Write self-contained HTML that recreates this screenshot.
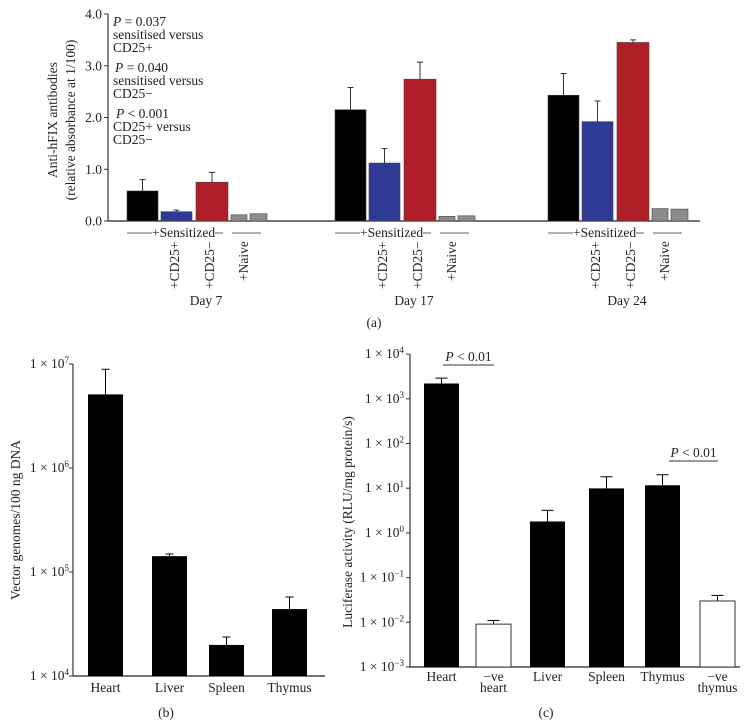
<!DOCTYPE html>
<html><head><meta charset="utf-8"><style>
body{margin:0;background:#fff}
svg{display:block;font-family:"Liberation Serif",serif;fill:#222}
text{fill:#222}
</style></head><body>
<svg id="fig" width="749" height="727" viewBox="0 0 749 727">
<g id="ga"></g>
<g id="gb"></g>
<g id="gc"></g>
</svg>
<script>
// Panel (a)
const aDays = ["Day 7","Day 17","Day 24"];
const aGroups = ["Sensitized","+CD25+","+CD25\u2212","Naive1","Naive2"];
const aValues = [[0.58,0.18,0.75,0.12,0.14],[2.15,1.12,2.74,0.09,0.10],[2.43,1.92,3.45,0.24,0.23]];
const aErrors = [[0.80,0.21,0.94,0,0],[2.58,1.40,3.07,0,0],[2.85,2.32,3.50,0,0]];
const aTicks = [0,1,2,3,4];
const aTickLabels = ["0.0","1.0","2.0","3.0","4.0"];
// Panel (b)
const bCats = ["Heart","Liver","Spleen","Thymus"];
const bValues = [5.1e6,1.42e5,1.99e4,4.4e4];
const bErrors = [8.9e6,1.49e5,2.37e4,5.75e4];
const bTickExp = [4,5,6,7];
// Panel (c)
const cCats = [["Heart"],["\u2212ve","heart"],["Liver"],["Spleen"],["Thymus"],["\u2212ve","thymus"]];
const cValues = [2.2e3,0.0091,1.8,9.9,11.6,0.030];
const cErrors = [2.9e3,0.011,3.2,18,20,0.040];
const cFilled = [true,false,true,true,true,false];
const cTickExp = [-3,-2,-1,0,1,2,3,4];

const NS="http://www.w3.org/2000/svg";
function mk(p,t,a,txt){const e=document.createElementNS(NS,t);for(const k in a)e.setAttribute(k,a[k]);if(txt!==undefined)e.textContent=txt;p.appendChild(e);return e;}

// ---- Panel A ----
const ga=document.getElementById('ga');
const ay=v=>221-v*51.75;
const aAxisX=108;
let e=mk(ga,'line',{x1:aAxisX,y1:ay(4),x2:aAxisX,y2:221,stroke:'#333','stroke-width':1.2});

e=mk(ga,'line',{x1:aAxisX,y1:221,x2:700,y2:221,stroke:'#222','stroke-width':1.2});

aTicks.forEach((t,i)=>{
  mk(ga,'line',{x1:aAxisX-4,y1:ay(t),x2:aAxisX,y2:ay(t),stroke:'#333'});
  e=mk(ga,'text',{x:aAxisX-6,y:ay(t)+4.5,'text-anchor':'end','font-size':13.5},aTickLabels[i]);
  
});
e=mk(ga,'text',{transform:'translate(57,120) rotate(-90)','text-anchor':'middle','font-size':13.5},'Anti-hFIX antibodies');

e=mk(ga,'text',{transform:'translate(75,120) rotate(-90)','text-anchor':'middle','font-size':13.5},'(relative absorbance at 1/100)');

const notes=[[26,'P = 0.037',113],[39,'sensitised versus',113],[52,'CD25+',113],[72,'P = 0.040',115],[85,'sensitised versus',113],[98,'CD25\u2212',113],[118,'P < 0.001',116],[131,'CD25+ versus',113],[144,'CD25\u2212',113]];
notes.forEach(n=>{
  let t=mk(ga,'text',{x:n[2],y:n[0],'font-size':13.5});
  if(n[1][0]==='P'){mk(t,'tspan',{'font-style':'italic'},'P');mk(t,'tspan',{},n[1].slice(1));}else t.textContent=n[1];
  
});
const aStarts=[127,335,548];
const aOffs=[0,34,69,104,123];
const aWidths=[31,31,32,16,17];
const aColors=['#000','#2e3a94','#b01f27','#8c8c8c','#8c8c8c'];
aDays.forEach((d,di)=>{
  aGroups.forEach((g,gi)=>{
    const x=aStarts[di]+aOffs[gi], w=aWidths[gi], v=aValues[di][gi];
    let r=mk(ga,'rect',{x:x,y:ay(v),width:w,height:221-ay(v),fill:aColors[gi],stroke:'#444','stroke-width':0.6});
    
    const er=aErrors[di][gi];
    if(er>v){const cx=x+w/2;mk(ga,'line',{x1:cx,y1:ay(v),x2:cx,y2:ay(er),stroke:'#333'});mk(ga,'line',{x1:cx-3,y1:ay(er),x2:cx+3,y2:ay(er),stroke:'#333'});}
  });
  const s=aStarts[di];
  mk(ga,'line',{x1:s,y1:233,x2:s+25,y2:233,stroke:'#333','stroke-width':0.8});
  let t=mk(ga,'text',{x:s+25,y:237,'font-size':13.5},'+Sensitized');
  
  mk(ga,'line',{x1:s+88,y1:233,x2:s+96,y2:233,stroke:'#333','stroke-width':0.8});
  mk(ga,'line',{x1:s+105,y1:233,x2:s+134,y2:233,stroke:'#333','stroke-width':0.8});
  [['+CD25+',s+52],['+CD25\u2212',s+87],['+Naive',s+121]].forEach(l=>{
    let tt=mk(ga,'text',{transform:`translate(${l[1]},${l[0]==='+Naive'?281:289}) rotate(-90)`,'font-size':13.5},l[0]);
    
  });
  t=mk(ga,'text',{x:s+79,y:305,'text-anchor':'middle','font-size':13.5},d);
  
});
e=mk(ga,'text',{x:374,y:327,'text-anchor':'middle','font-size':13.5},'(a)');


function expLabel(g,x,y,ex,name){
  let t=mk(g,'text',{x:x,y:y,'text-anchor':'end','font-size':13.5});
  mk(t,'tspan',{},'1 \u00d7 10');
  mk(t,'tspan',{dy:-5,'font-size':9},String(ex).replace('-','\u2212'));
  
}

// ---- Panel B ----
const gb=document.getElementById('gb');
const by=v=>676-(Math.log10(v)-4)*104;
const bAxisX=73;
e=mk(gb,'line',{x1:bAxisX,y1:by(1e7),x2:bAxisX,y2:676,stroke:'#333','stroke-width':1.2});

e=mk(gb,'line',{x1:bAxisX,y1:676,x2:325,y2:676,stroke:'#222','stroke-width':1.2});

bTickExp.forEach(ex=>{
  const y=by(Math.pow(10,ex));
  mk(gb,'line',{x1:bAxisX-4,y1:y,x2:bAxisX,y2:y,stroke:'#333'});
  expLabel(gb,bAxisX-4,y+4,ex,'b-tick-label');
});
e=mk(gb,'text',{transform:'translate(20,520) rotate(-90)','text-anchor':'middle','font-size':13.5},'Vector genomes/100 ng DNA');

const bXs=[88,152,209,272], bW=35;
bCats.forEach((c,i)=>{
  const x=bXs[i], v=bValues[i];
  let r=mk(gb,'rect',{x:x,y:by(v),width:bW,height:676-by(v),fill:'#000'});
  
  const cx=x+bW/2, ey=by(bErrors[i]);
  mk(gb,'line',{x1:cx,y1:by(v),x2:cx,y2:ey,stroke:'#000'});
  mk(gb,'line',{x1:cx-4,y1:ey,x2:cx+4,y2:ey,stroke:'#000'});
  let t=mk(gb,'text',{x:cx,y:692,'text-anchor':'middle','font-size':13.5},c);
  
});
e=mk(gb,'text',{x:166,y:717,'text-anchor':'middle','font-size':13.5},'(b)');


// ---- Panel C ----
const gc=document.getElementById('gc');
const cy=v=>667-(Math.log10(v)+3)*44.7;
const cAxisX=410;
e=mk(gc,'line',{x1:cAxisX,y1:cy(1e4),x2:cAxisX,y2:667,stroke:'#333','stroke-width':1.2});

e=mk(gc,'line',{x1:cAxisX,y1:667,x2:740,y2:667,stroke:'#222','stroke-width':1.2});

cTickExp.forEach(ex=>{
  const y=cy(Math.pow(10,ex));
  mk(gc,'line',{x1:cAxisX-4,y1:y,x2:cAxisX,y2:y,stroke:'#333'});
  expLabel(gc,cAxisX-6,y+4,ex,'c-tick-label');
});
e=mk(gc,'text',{transform:'translate(352,522) rotate(-90)','text-anchor':'middle','font-size':13.5},'Luciferase activity (RLU/mg protein/s)');

const cXs=[424,476,530,589,645,700], cW=35;
cCats.forEach((c,i)=>{
  const x=cXs[i], v=cValues[i];
  let r=mk(gc,'rect',{x:x,y:cy(v),width:cW,height:667-cy(v),fill:cFilled[i]?'#000':'#fff',stroke:'#333','stroke-width':cFilled[i]?0:1});
  
  const cx=x+cW/2, ey=cy(cErrors[i]);
  mk(gc,'line',{x1:cx,y1:cy(v),x2:cx,y2:ey,stroke:'#000'});
  mk(gc,'line',{x1:cx-6,y1:ey,x2:cx+6,y2:ey,stroke:'#000'});
  c.forEach((l,j)=>{
    let t=mk(gc,'text',{x:cx,y:681+j*11,'text-anchor':'middle','font-size':13.5},l);
    
  });
});
[[443,494,365],[669,718,461]].forEach((p,i)=>{
  mk(gc,'line',{x1:p[0],y1:p[2],x2:p[1],y2:p[2],stroke:'#333'});
  let t=mk(gc,'text',{x:(p[0]+p[1])/2,y:p[2]-4,'text-anchor':'middle','font-size':13.5});
  mk(t,'tspan',{'font-style':'italic'},'P');mk(t,'tspan',{},' < 0.01');
  
});
e=mk(gc,'text',{x:546,y:717,'text-anchor':'middle','font-size':13.5},'(c)');

</script>
</body></html>
